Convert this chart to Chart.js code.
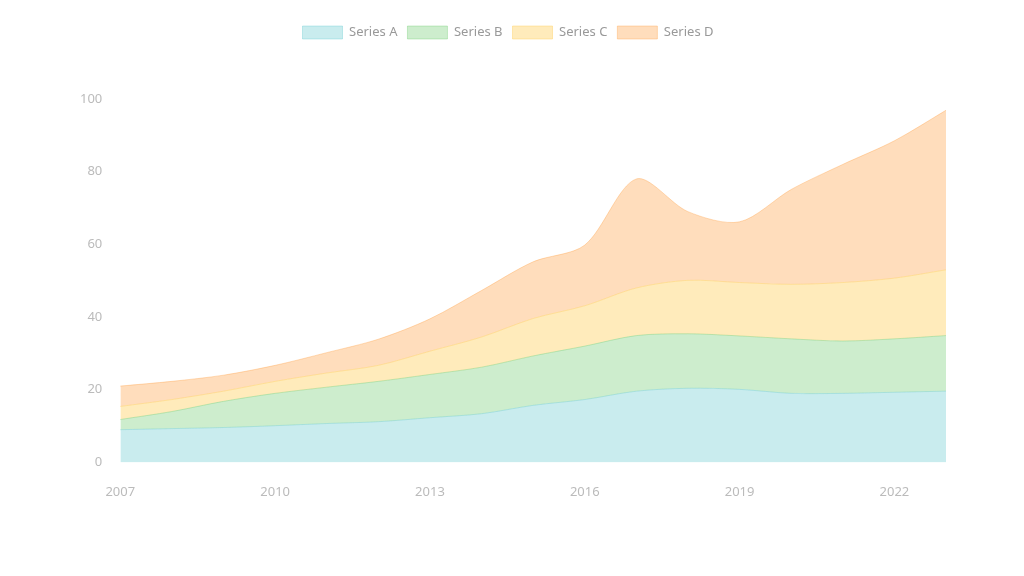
<!DOCTYPE html>
<html>
<head>
<meta charset="utf-8">
<script src="https://cdn.jsdelivr.net/npm/chart.js@4.4.1/dist/chart.umd.min.js"></script>
<style>
  html, body { margin: 0; padding: 0; background: #fff; }
  #wrap { width: 1024px; height: 576px; }
</style>
</head>
<body>
<div id="wrap"><canvas id="area-chart"></canvas></div>
<script>
    // Chart data
    var years = ["2007", "2008", "2009", "2010", "2011", "2012", "2013", "2014", "2015",
                 "2016", "2017", "2018", "2019", "2020", "2021", "2022", "2023"];
    var seriesA = [9.0, 9.3, 9.6, 10.1, 10.7, 11.2, 12.3, 13.4, 15.7, 17.3, 19.6, 20.4, 20.1, 19.0, 19.0, 19.3, 19.6];
    var seriesB = [2.8, 4.7, 7.2, 8.9, 10.0, 11.1, 11.9, 12.8, 13.6, 14.7, 15.3, 15.0, 14.7, 15.0, 14.4, 14.7, 15.3];
    var seriesC = [3.6, 3.3, 2.8, 3.3, 3.9, 4.4, 6.4, 8.3, 10.3, 11.1, 13.1, 14.7, 14.7, 15.0, 16.1, 16.7, 18.1];
    var seriesD = [5.6, 5.0, 4.4, 4.4, 5.6, 7.2, 8.9, 12.8, 15.6, 16.7, 30.0, 18.9, 16.7, 26.1, 32.5, 37.8, 43.9];
    var yTicks = [0, 20, 40, 60, 80, 100];

    // Extra room under the legend
    var legendMargin = {
        id: "legendMargin",
        beforeInit: function (chart) {
            var fit = chart.legend.fit;
            chart.legend.fit = function () {
                fit.bind(chart.legend)();
                this.height += 50;
            };
        }
    };

    // Stacked area chart
    var ctx = document.getElementById("area-chart").getContext("2d");
    var myChart = new Chart(ctx, {
        type: "line",
        data: {
            labels: years,
            datasets: [{
                    label: "Series A",
                    data: seriesA,
                    backgroundColor: "rgba(75, 192, 200, .3)",
                    borderColor: "rgba(75, 192, 200, .3)",
                    fill: "origin"
                },
                {
                    label: "Series B",
                    data: seriesB,
                    backgroundColor: "rgba(90, 195, 90, .3)",
                    borderColor: "rgba(90, 195, 90, .3)",
                    fill: "-1"
                },
                {
                    label: "Series C",
                    data: seriesC,
                    backgroundColor: "rgba(255, 205, 86, .4)",
                    borderColor: "rgba(255, 205, 86, .4)",
                    fill: "-1"
                },
                {
                    label: "Series D",
                    data: seriesD,
                    backgroundColor: "rgba(255, 159, 64, .35)",
                    borderColor: "rgba(255, 159, 64, .35)",
                    fill: "-1"
                }
            ]
        },
        options: {
            responsive: true,
            maintainAspectRatio: false,
            animation: false,
            layout: { padding: { left: 70, right: 78, top: 16, bottom: 62 } },
            elements: {
                point: { radius: 0 },
                line: { tension: 0.3, borderWidth: 1 }
            },
            plugins: {
                legend: {
                    position: "top",
                    labels: { font: { family: "Noto Sans", size: 13 }, color: "#999", boxWidth: 40, padding: 10 }
                },
                tooltip: { enabled: false }
            },
            scales: {
                x: {
                    grid: { display: false },
                    border: { display: false },
                    ticks: {
                        autoSkip: true,
                        maxTicksLimit: 6,
                        maxRotation: 0,
                        padding: 14,
                        color: "#bbb",
                        font: { family: "Noto Sans", size: 13 }
                    }
                },
                y: {
                    stacked: true,
                    min: 0,
                    max: 100,
                    grid: { display: false },
                    border: { display: false },
                    afterBuildTicks: function (axis) {
                        axis.ticks = yTicks.map(function (v) { return { value: v }; });
                    },
                    ticks: {
                        padding: 10,
                        color: "#bbb",
                        font: { family: "Noto Sans", size: 13 }
                    }
                }
            }
        },
        plugins: [legendMargin]
    });
</script>
</body>
</html>
